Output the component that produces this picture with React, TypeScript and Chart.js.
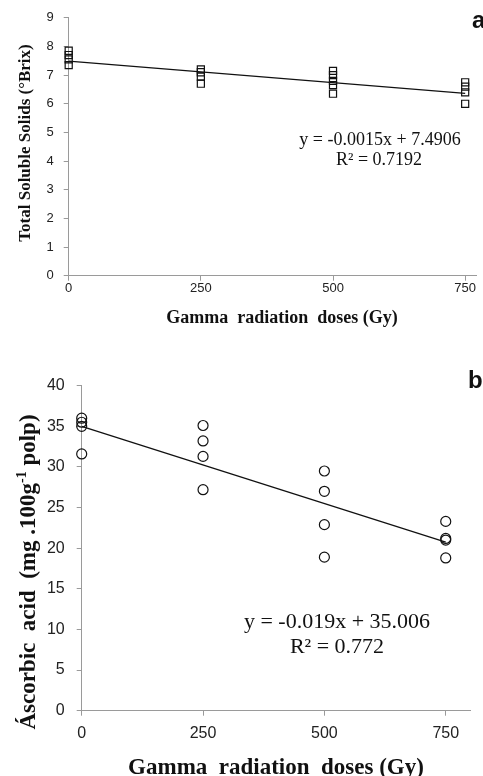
import React, { useEffect, useRef } from "react";
import { Chart, registerables } from "chart.js";

Chart.register(...registerables);

// ---------- data ----------
const DOSES = [0, 250, 500, 750];
const X_TICKS = [0, 250, 500, 750];

// Total soluble solids (°Brix), replicates per dose
const TSS_0 = [7.85, 7.7, 7.55, 7.35];
const TSS_250 = [7.2, 7.1, 6.95, 6.7];
const TSS_500 = [7.15, 7.0, 6.8, 6.65, 6.35];
const TSS_750 = [6.75, 6.6, 6.4, 6.0];
const TSS_SLOPE = -0.0015;
const TSS_INTERCEPT = 7.4906;
const TSS_EQ = "y = -0.0015x + 7.4906";
const TSS_R2 = "R² = 0.7192";

// Ascorbic acid (mg.100g-1 pulp), replicates per dose
const AA_0 = [36.0, 35.5, 35.0, 31.6];
const AA_250 = [35.1, 33.2, 31.3, 27.2];
const AA_500 = [29.5, 27.0, 22.9, 18.9];
const AA_750 = [23.3, 21.2, 21.0, 18.8];
const AA_SLOPE = -0.019;
const AA_INTERCEPT = 35.006;
const AA_EQ = "y = -0.019x + 35.006";
const AA_R2 = "R² = 0.772";

const TSS_Y_STEP = 1;
const AA_Y_STEP = 5;

// ---------- helpers ----------
const SERIF = "'Liberation Serif', 'Times New Roman', serif";
const SANS = "'Liberation Sans', Arial, sans-serif";
const INK = "#111";
const AXIS = "#9a9a9a";

function toPoints(groups: number[][]) {
  const pts: { x: number; y: number }[] = [];
  groups.forEach((g, i) => g.forEach((y) => pts.push({ x: DOSES[i], y })));
  return pts;
}

function fitLine(slope: number, intercept: number) {
  const x0 = DOSES[0];
  const x1 = DOSES[DOSES.length - 1];
  return [
    { x: x0, y: intercept + slope * x0 },
    { x: x1, y: intercept + slope * x1 },
  ];
}

type Part = { t: string; font: string; dy?: number };
type TextItem = {
  parts: Part[];
  x: number;
  y: number;
  rotate?: boolean;
  align?: "center" | "left";
  color?: string;
};

function textPlugin(id: string, items: TextItem[]) {
  return {
    id,
    afterDraw(chart: any) {
      const ctx = chart.ctx as CanvasRenderingContext2D;
      items.forEach((it) => {
        ctx.save();
        ctx.translate(it.x, it.y);
        if (it.rotate) ctx.rotate(-Math.PI / 2);
        ctx.textBaseline = "alphabetic";
        ctx.textAlign = "left";
        ctx.fillStyle = it.color || INK;
        const widths = it.parts.map((p) => {
          ctx.font = p.font;
          return ctx.measureText(p.t).width;
        });
        const total = widths.reduce((a, b) => a + b, 0);
        let cx = it.align === "left" ? 0 : -total / 2;
        it.parts.forEach((p, i) => {
          ctx.font = p.font;
          ctx.fillText(p.t, cx, p.dy || 0);
          cx += widths[i];
        });
        ctx.restore();
      });
    },
  };
}

function axisOpts(extra: any) {
  return {
    type: "linear",
    grid: {
      display: true,
      drawOnChartArea: false,
      drawTicks: true,
      tickLength: 5,
      color: AXIS,
    },
    border: { display: true, color: AXIS, width: 1 },
    ...extra,
  };
}

function makeConfig(opts: {
  points: { x: number; y: number }[];
  line: { x: number; y: number }[];
  pointStyle: string;
  radius: number;
  xMax: number;
  yMax: number;
  yStep: number;
  tickSize: number;
  leftW: number;
  bottomH: number;
  padTop: number;
  padRight: number;
  yPad: number;
  xPad: number;
  texts: TextItem[];
  id: string;
}) {
  const tickFont = { family: SANS, size: opts.tickSize };
  return {
    type: "scatter",
    data: {
      datasets: [
        {
          type: "line",
          data: opts.line,
          borderColor: INK,
          borderWidth: 1.3,
          pointRadius: 0,
          fill: false,
          clip: false,
          order: 2,
        },
        {
          data: opts.points,
          pointStyle: opts.pointStyle,
          pointRadius: opts.radius,
          borderColor: INK,
          borderWidth: 1.2,
          backgroundColor: "rgba(255,255,255,0)",
          clip: false,
          order: 1,
        },
      ],
    },
    options: {
      responsive: false,
      animation: false,
      events: [],
      layout: {
        padding: { top: opts.padTop, right: opts.padRight, left: 0, bottom: 0 },
      },
      plugins: {
        legend: { display: false },
        tooltip: { enabled: false },
        title: { display: false },
      },
      scales: {
        x: axisOpts({
          min: 0,
          max: opts.xMax,
          afterFit: (s: any) => {
            s.height = opts.bottomH;
          },
          afterBuildTicks: (s: any) => {
            s.ticks = X_TICKS.map((v) => ({ value: v }));
          },
          ticks: {
            font: tickFont,
            color: "#222",
            padding: opts.xPad,
            maxRotation: 0,
            autoSkip: false,
          },
        }),
        y: axisOpts({
          min: 0,
          max: opts.yMax,
          afterFit: (s: any) => {
            s.width = opts.leftW;
          },
          ticks: {
            stepSize: opts.yStep,
            includeBounds: false,
            font: tickFont,
            color: "#222",
            padding: opts.yPad,
          },
        }),
      },
    },
    plugins: [textPlugin(opts.id, opts.texts)],
  };
}

export default function App() {
  const topRef = useRef<HTMLCanvasElement | null>(null);
  const botRef = useRef<HTMLCanvasElement | null>(null);

  useEffect(() => {
    const topTexts: TextItem[] = [
      {
        parts: [{ t: "Total Soluble Solids (°Brix)", font: `bold 17px ${SERIF}` }],
        x: 30,
        y: 143,
        rotate: true,
      },
      {
        parts: [{ t: "Gamma  radiation  doses (Gy)", font: `bold 18px ${SERIF}` }],
        x: 282,
        y: 323,
      },
      { parts: [{ t: TSS_EQ, font: `18px ${SERIF}` }], x: 380, y: 145 },
      { parts: [{ t: TSS_R2, font: `18px ${SERIF}` }], x: 379, y: 165 },
      { parts: [{ t: "a", font: `bold 24px ${SANS}` }], x: 472, y: 28, align: "left" },
    ];
    const botTexts: TextItem[] = [
      {
        parts: [
          { t: "Áscorbic  acid  (mg .100g", font: `bold 23px ${SERIF}` },
          { t: "-1", font: `bold 14px ${SERIF}`, dy: -9 },
          { t: " polp)", font: `bold 23px ${SERIF}` },
        ],
        x: 35,
        y: 232,
        rotate: true,
      },
      {
        parts: [{ t: "Gamma  radiation  doses (Gy)", font: `bold 23px ${SERIF}` }],
        x: 276,
        y: 434,
      },
      { parts: [{ t: AA_EQ, font: `22px ${SERIF}` }], x: 337, y: 288 },
      { parts: [{ t: AA_R2, font: `22px ${SERIF}` }], x: 337, y: 313 },
      { parts: [{ t: "b", font: `bold 24px ${SANS}` }], x: 468, y: 48, align: "left" },
    ];

    const top = new Chart(
      topRef.current as HTMLCanvasElement,
      makeConfig({
        id: "txtA",
        points: toPoints([TSS_0, TSS_250, TSS_500, TSS_750]),
        line: fitLine(TSS_SLOPE, TSS_INTERCEPT),
        pointStyle: "rect",
        radius: 5,
        xMax: 772,
        yMax: 9,
        yStep: TSS_Y_STEP,
        tickSize: 13,
        leftW: 68.7,
        bottomH: 340 - 275.7,
        padTop: 15.3,
        padRight: 0,
        yPad: 10,
        xPad: 0,
        texts: topTexts,
      }) as any
    );
    const bot = new Chart(
      botRef.current as HTMLCanvasElement,
      makeConfig({
        id: "txtB",
        points: toPoints([AA_0, AA_250, AA_500, AA_750]),
        line: fitLine(AA_SLOPE, AA_INTERCEPT),
        pointStyle: "circle",
        radius: 5,
        xMax: 800,
        yMax: 40,
        yStep: AA_Y_STEP,
        tickSize: 16,
        leftW: 81.7,
        bottomH: 436 - 370.7,
        padTop: 45.7,
        padRight: 13,
        yPad: 12,
        xPad: 8,
        texts: botTexts,
      }) as any
    );
    return () => {
      top.destroy();
      bot.destroy();
    };
  }, []);

  return (
    <div
      style={{
        position: "absolute",
        left: 0,
        top: 0,
        width: 483,
        height: 776,
        background: "#fff",
        overflow: "hidden",
      }}
    >
      <canvas
        ref={topRef}
        width={483}
        height={340}
        style={{ position: "absolute", left: 0, top: 0, width: 483, height: 340 }}
      />
      <canvas
        ref={botRef}
        width={483}
        height={436}
        style={{ position: "absolute", left: 0, top: 340, width: 483, height: 436 }}
      />
    </div>
  );
}
